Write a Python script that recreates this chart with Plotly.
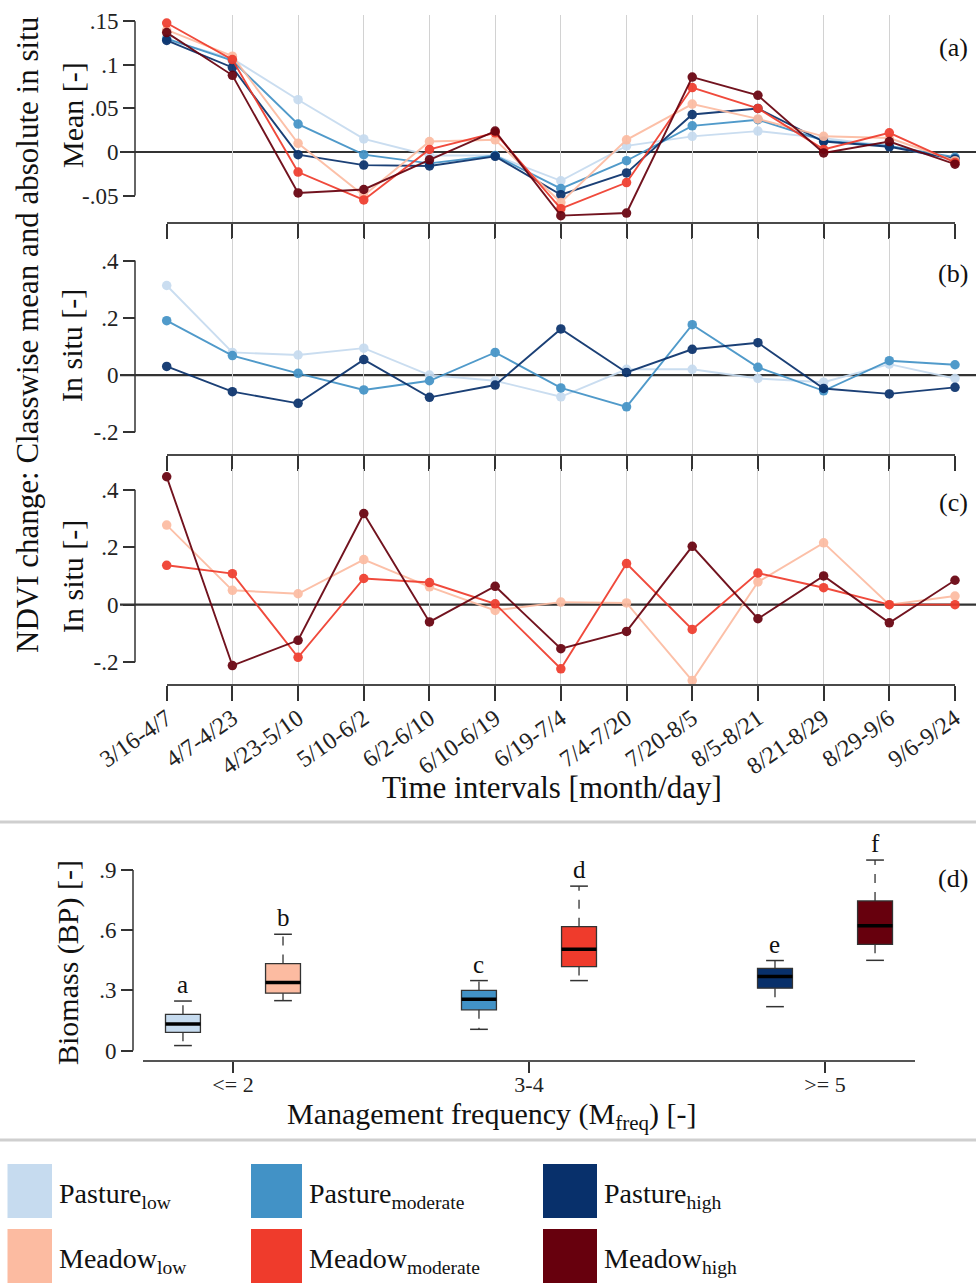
import plotly.graph_objects as go

W, H = 976, 1285
FONT = "Liberation Serif"

# ---------------- data ----------------
intervals = ["3/16-4/7", "4/7-4/23", "4/23-5/10", "5/10-6/2", "6/2-6/10", "6/10-6/19",
             "6/19-7/4", "7/4-7/20", "7/20-8/5", "8/5-8/21", "8/21-8/29", "8/29-9/6", "9/6-9/24"]

class_names = ["Pasture_low", "Pasture_moderate", "Pasture_high",
               "Meadow_low", "Meadow_moderate", "Meadow_high"]
class_colors = ["#c6dbef", "#4292c6", "#08306b", "#fcbba1", "#ef3b2c", "#67000d"]

# (a) classwise mean NDVI change
mean_pasture_low = [0.129, 0.107, 0.060, 0.015, -0.004, -0.004, -0.033, 0.007, 0.018, 0.024, 0.016, 0.007, -0.010]
mean_pasture_mod = [0.130, 0.105, 0.032, -0.003, -0.013, -0.004, -0.042, -0.010, 0.030, 0.037, 0.013, 0.007, -0.006]
mean_pasture_high = [0.128, 0.097, -0.003, -0.015, -0.016, -0.005, -0.049, -0.024, 0.043, 0.050, 0.012, 0.006, -0.008]
mean_meadow_low = [0.140, 0.110, 0.010, -0.050, 0.012, 0.014, -0.058, 0.014, 0.055, 0.038, 0.018, 0.016, -0.010]
mean_meadow_mod = [0.148, 0.106, -0.023, -0.055, 0.003, 0.022, -0.065, -0.035, 0.074, 0.050, 0.003, 0.022, -0.012]
mean_meadow_high = [0.137, 0.088, -0.047, -0.043, -0.009, 0.024, -0.073, -0.070, 0.086, 0.065, -0.001, 0.012, -0.014]

# (b) in situ, pastures
insitu_pasture_low = [0.313, 0.079, 0.070, 0.094, 0.000, -0.020, -0.076, 0.020, 0.020, -0.012, -0.025, 0.038, -0.012]
insitu_pasture_mod = [0.190, 0.068, 0.006, -0.052, -0.020, 0.079, -0.045, -0.111, 0.176, 0.027, -0.055, 0.050, 0.036]
insitu_pasture_high = [0.030, -0.058, -0.099, 0.054, -0.078, -0.035, 0.161, 0.009, 0.090, 0.113, -0.047, -0.066, -0.043]

# (c) in situ, meadows
insitu_meadow_low = [0.277, 0.050, 0.038, 0.157, 0.062, -0.020, 0.009, 0.006, -0.264, 0.079, 0.215, 0.000, 0.030]
insitu_meadow_mod = [0.137, 0.108, -0.183, 0.091, 0.077, 0.003, -0.223, 0.143, -0.086, 0.110, 0.059, 0.000, 0.000]
insitu_meadow_high = [0.445, -0.212, -0.124, 0.317, -0.060, 0.064, -0.153, -0.093, 0.203, -0.049, 0.100, -0.063, 0.085]

# (d) biomass boxplots
freq_labels = ["<= 2", "3-4", ">= 5"]
box_classes = ["Pasture_low", "Meadow_low", "Pasture_moderate", "Meadow_moderate", "Pasture_high", "Meadow_high"]
box_group = [0, 0, 1, 1, 2, 2]
box_side = [-1, 1, -1, 1, -1, 1]
box_colors = ["#c6dbef", "#fcbba1", "#4292c6", "#ef3b2c", "#08306b", "#67000d"]
box_lower = [0.025, 0.249, 0.106, 0.349, 0.219, 0.450]
box_q1 = [0.091, 0.286, 0.203, 0.419, 0.311, 0.530]
box_median = [0.133, 0.340, 0.256, 0.505, 0.369, 0.623]
box_q3 = [0.181, 0.434, 0.300, 0.618, 0.410, 0.746]
box_upper = [0.247, 0.580, 0.349, 0.820, 0.449, 0.950]
box_letters = ["a", "b", "c", "d", "e", "f"]

legend_labels = ["Pasture<sub>low</sub>", "Pasture<sub>moderate</sub>", "Pasture<sub>high</sub>",
                 "Meadow<sub>low</sub>", "Meadow<sub>moderate</sub>", "Meadow<sub>high</sub>"]


# ---------------- helpers ----------------
def px(x):
    return x / W


def py(y):
    return 1 - y / H


fig = go.Figure()

panel_a = [mean_pasture_low, mean_pasture_mod, mean_pasture_high,
           mean_meadow_low, mean_meadow_mod, mean_meadow_high]
panel_b = [insitu_pasture_low, insitu_pasture_mod, insitu_pasture_high]
panel_c = [insitu_meadow_low, insitu_meadow_mod, insitu_meadow_high]


def add_lines(series_list, colors, xa, ya):
    for s, c in zip(series_list, colors):
        fig.add_trace(go.Scatter(
            x=intervals, y=s, mode="lines+markers", xaxis=xa, yaxis=ya,
            line=dict(color=c, width=1.9), marker=dict(color=c, size=9.5),
            opacity=0.92, cliponaxis=False, showlegend=False))


add_lines(panel_a, class_colors, "x", "y")
add_lines(panel_b, class_colors[:3], "x2", "y2")
add_lines(panel_c, class_colors[3:], "x3", "y3")

# boxplots (d)
box_off = 0.169
for i in range(len(box_classes)):
    pos = box_group[i] + box_side[i] * box_off
    c = box_colors[i]
    fig.add_trace(go.Scatter(
        x=[pos, pos, None, pos, pos], y=[box_q3[i], box_upper[i], None, box_q1[i], box_lower[i]],
        mode="lines", line=dict(color="#333333", width=1.3, dash="dash"),
        xaxis="x4", yaxis="y4", showlegend=False, hoverinfo="skip"))
    fig.add_trace(go.Scatter(
        x=[pos - 0.03, pos + 0.03, None, pos - 0.03, pos + 0.03],
        y=[box_upper[i], box_upper[i], None, box_lower[i], box_lower[i]],
        mode="lines", line=dict(color="#333333", width=1.5),
        xaxis="x4", yaxis="y4", showlegend=False, hoverinfo="skip"))
    fig.add_trace(go.Box(
        x=[pos], q1=[box_q1[i]], median=[box_median[i]], q3=[box_q3[i]],
        lowerfence=[box_q1[i]], upperfence=[box_q3[i]], width=0.118,
        fillcolor=c, line=dict(color="#333333", width=1.3), whiskerwidth=0,
        xaxis="x4", yaxis="y4", showlegend=False, name=box_classes[i]))
    fig.add_trace(go.Scatter(
        x=[pos - 0.059, pos + 0.059], y=[box_median[i], box_median[i]],
        mode="lines", line=dict(color="#000000", width=3.5),
        xaxis="x4", yaxis="y4", showlegend=False, hoverinfo="skip"))

# ---------------- axes ----------------
tick_font = dict(family=FONT, size=23, color="#222")
grid_col = "#d2d2d2"

panels = [
    # name, top px, bottom px, range, tickvals, ticktext
    ("", 15, 222, [-0.0803, 0.1572], [-0.05, 0, 0.05, 0.1, 0.15], ["-.05", "0", ".05", ".1", ".15"]),
    ("2", 238, 454, [-0.276, 0.479], [-0.2, 0, 0.2, 0.4], ["-.2", "0", ".2", ".4"]),
    ("3", 469, 684, [-0.276, 0.472], [-0.2, 0, 0.2, 0.4], ["-.2", "0", ".2", ".4"]),
]

shapes = []
for k, (n, top, bot, rng, tv, tt) in enumerate(panels):
    fig.layout["xaxis" + n] = dict(
        domain=[px(166.7), px(955)], anchor="y" + n, type="category",
        categoryorder="array", categoryarray=intervals, range=[0, 12],
        showgrid=True, gridcolor=grid_col, gridwidth=1,
        showline=True, linecolor="#4a4a4a", linewidth=2.2,
        ticks="outside", ticklen=15, tickwidth=1.5, tickcolor="#333",
        showticklabels=(k == 2), tickangle=-35, tickfont=dict(family=FONT, size=24, color="#222"),
        ticklabelstandoff=-6, zeroline=False, automargin=False)
    fig.layout["yaxis" + n] = dict(
        domain=[py(bot), py(top)], anchor="free", position=px(135), range=rng,
        tickvals=tv, ticktext=tt, tickfont=tick_font,
        ticks="outside", ticklen=12, tickwidth=1.5, tickcolor="#333",
        showgrid=False, zeroline=False, showline=False, automargin=False)
    yref = "y" + n
    shapes.append(dict(type="line", xref="paper", yref=yref, x0=px(135), x1=px(135),
                       y0=tv[0], y1=tv[-1], line=dict(color="#333", width=1.5)))
    shapes.append(dict(type="line", xref="paper", yref=yref, x0=px(120), x1=1.0,
                       y0=0, y1=0, line=dict(color="#333", width=2.2), layer="between"))

fig.layout["xaxis4"] = dict(
    domain=[px(143), px(915)], anchor="y4", range=[-0.304, 2.304],
    tickvals=[0, 1, 2], ticktext=freq_labels, tickfont=dict(family=FONT, size=22, color="#222"),
    showgrid=False, zeroline=False, showline=True, linecolor="#555", linewidth=2.2,
    ticks="outside", ticklen=11, tickwidth=1.5, tickcolor="#333",
    ticklabelstandoff=-8, automargin=False)
fig.layout["yaxis4"] = dict(
    domain=[py(1060), py(838)], anchor="free", position=px(133), range=[-0.047, 1.06],
    tickvals=[0, 0.3, 0.6, 0.9], ticktext=["0", ".3", ".6", ".9"], tickfont=tick_font,
    ticks="outside", ticklen=12, tickwidth=1.5, tickcolor="#333",
    showgrid=False, zeroline=False, showline=False, automargin=False)
shapes.append(dict(type="line", xref="paper", yref="y4", x0=px(133), x1=px(133),
                   y0=0, y1=0.9, line=dict(color="#333", width=1.5)))

# separators
for yy in (822, 1140):
    shapes.append(dict(type="line", xref="paper", yref="paper", x0=0, x1=1,
                       y0=py(yy), y1=py(yy), line=dict(color="#cfcfcf", width=3)))

# legend squares
legend_cols = [(7.5, 52), (251, 302), (543, 597)]
legend_rows = [(1164, 1218), (1229, 1283)]
annotations = []
for i, (lab, col) in enumerate(zip(legend_labels, class_colors)):
    r, cidx = divmod(i, 3)
    x0, x1 = legend_cols[cidx]
    y0, y1 = legend_rows[r]
    shapes.append(dict(type="rect", xref="paper", yref="paper",
                       x0=px(x0), x1=px(x1), y0=py(y1), y1=py(y0),
                       fillcolor=col, line=dict(width=0)))
    annotations.append(dict(text=lab, xref="paper", yref="paper", x=px(x1 + 5),
                            y=py((y0 + y1) / 2 + 4), xanchor="left", yanchor="middle",
                            showarrow=False, font=dict(family=FONT, size=28, color="#111")))

# box letters
for i in range(len(box_classes)):
    pos = box_group[i] + box_side[i] * box_off
    annotations.append(dict(text=box_letters[i], x=pos, y=box_upper[i], xref="x4", yref="y4",
                            xanchor="center", yanchor="bottom", yshift=1, showarrow=False,
                            font=dict(family=FONT, size=25, color="#111")))

title_font = dict(family=FONT, size=30, color="#111")


def cann(text, x, y, font, angle=0):
    return dict(text=text, x=px(x), y=py(y), xref="paper", yref="paper", textangle=angle,
                xanchor="center", yanchor="middle", showarrow=False, font=font)


annotations += [
    cann("NDVI change: Classwise mean and absolute in situ", 28, 335,
         dict(family=FONT, size=31, color="#111"), -90),
    cann("Mean [-]", 72, 115, title_font, -90),
    cann("In situ [-]", 72, 346, title_font, -90),
    cann("In situ [-]", 72, 577, title_font, -90),
    cann("Biomass (BP) [-]", 68, 963, title_font, -90),
    cann("Time intervals [month/day]", 552, 787, dict(family=FONT, size=31, color="#111")),
    cann("Management frequency (M<sub>freq</sub>) [-]", 492, 1116, title_font),
]
for lab, yy in (("(a)", 48), ("(b)", 273), ("(c)", 503), ("(d)", 878)):
    annotations.append(cann(lab, 953, yy, dict(family=FONT, size=26, color="#111")))

fig.update_layout(
    width=W, height=H, margin=dict(l=0, r=0, t=0, b=0, pad=0, autoexpand=False),
    paper_bgcolor="white", plot_bgcolor="white",
    shapes=shapes, annotations=annotations, showlegend=False,
    font=dict(family=FONT))

fig.write_html("out.html", config={"displayModeBar": False},
               post_script="document.body.style.margin='0px';")
